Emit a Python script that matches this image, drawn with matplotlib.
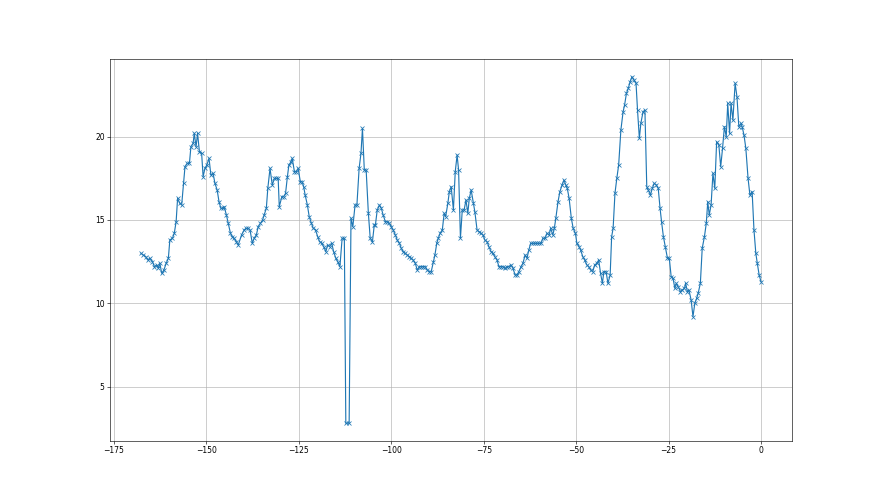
import numpy as np
from matplotlib import pyplot as plt

# hours before now
hours = [
    -167.7, -167.1, -166.4, -165.9, -165.3, -164.6, -164.1, -163.5, -163.0, -162.6,
    -162.1, -161.5, -160.9, -160.3, -159.9, -159.2, -158.7, -158.2, -157.8, -157.2,
    -156.7, -156.2, -155.8, -155.2, -154.6, -154.2, -153.6, -153.3, -152.8, -152.4,
    -151.9, -151.3, -150.9, -150.4, -149.9, -149.3, -148.8, -148.2, -147.7, -147.1,
    -146.6, -146.1, -145.5, -145.2, -144.6, -144.1, -143.5, -143.0, -142.5, -141.9,
    -141.4,
    -140.5, -139.8, -139.3, -138.7, -138.2, -137.6, -137.1, -136.5, -136.0, -135.4,
    -134.8, -134.4, -133.8, -133.4, -132.8, -132.2, -131.6, -131.1, -130.6, -130.3,
    -129.6, -129.1, -128.6, -128.1, -127.7, -127.1, -126.8, -126.2, -125.7, -125.2,
    -124.6, -124.1, -123.7, -123.3, -122.7, -122.2, -121.6, -121.1, -120.5, -119.9,
    -119.4, -118.8, -118.3, -117.7, -117.2, -116.7, -116.1, -115.6, -115.0, -114.5,
    -113.9, -113.3, -112.7, -112.3, -111.4, -110.9, -110.4, -109.8, -109.3, -108.7,
    -108.2, -107.8, -107.3, -106.8, -106.2, -105.7, -105.1, -104.6, -104.3, -103.8,
    -103.2, -102.7, -102.2, -101.6, -101.1, -100.5, -100.0, -99.5, -98.9, -98.4,
    -97.8, -97.3, -96.8, -96.2, -95.7, -95.1, -94.6, -94.1, -93.5, -93.0,
    -92.4, -91.9, -91.3, -90.8, -90.3, -89.7, -89.2, -88.6,
    -88.2, -87.7, -87.3, -86.8, -86.2, -85.7, -85.3, -84.7, -84.3, -83.8,
    -83.2, -82.7, -82.2, -81.8, -81.3, -80.8, -80.3, -79.8, -79.3, -78.9,
    -78.4, -77.8, -77.4, -76.8, -76.3, -75.7, -75.2, -74.7, -74.1, -73.6,
    -73.0, -72.5, -72.0, -71.4, -70.9, -70.3, -69.8, -69.2, -68.7, -68.2,
    -67.6, -67.1, -66.5, -66.0, -65.5, -64.9, -64.4, -63.8, -63.3, -62.8,
    -62.3, -61.8, -61.2, -60.7, -60.1,
    -59.5, -59.0, -58.4, -57.9, -57.3, -56.9, -56.3, -55.9, -55.5, -54.9,
    -54.4, -53.8, -53.3, -52.8, -52.4, -51.9, -51.3, -50.8, -50.2, -49.8,
    -49.2, -48.8, -48.2, -47.7, -47.1, -46.6, -46.1, -45.5, -45.0, -44.4,
    -43.9, -43.4, -42.9, -42.5, -41.9, -41.4, -40.8, -40.4, -40.0, -39.5,
    -39.0, -38.5, -37.9, -37.3, -36.9, -36.4, -35.9, -35.4, -34.9, -34.4,
    -33.8, -33.4, -32.9, -32.5, -31.9, -31.4,
    -30.9, -30.5, -29.9, -29.4, -28.9, -28.3, -27.8, -27.3, -26.9, -26.4,
    -25.9, -25.3, -24.8, -24.3, -23.8, -23.3, -22.9, -22.4, -21.8, -21.3,
    -20.7, -20.4, -19.9, -19.5, -18.9, -18.4, -17.9, -17.4, -17.0, -16.4,
    -15.9, -15.3, -14.8, -14.4, -14.0, -13.5, -13.0, -12.5, -12.0, -11.4,
    -10.9, -10.4, -9.9, -9.4, -9.0, -8.5, -8.1, -7.6, -7.0, -6.5,
    -6.0, -5.4, -5.1, -4.6, -4.1, -3.5, -3.0, -2.4, -1.9, -1.4,
    -1.0, -0.5, 0.0,
]

values = [
    13.0, 12.9, 12.8, 12.6, 12.7, 12.5, 12.2, 12.3, 12.1, 12.4,
    11.8, 12.0, 12.4, 12.7, 13.8, 13.9, 14.2, 14.9, 16.3, 16.0,
    15.9, 17.2, 18.2, 18.4, 18.4, 19.4, 19.6, 20.2, 19.4, 20.2,
    19.1, 19.0, 17.6, 18.1, 18.3, 18.7, 17.7, 17.8, 17.2, 16.8,
    16.1, 15.7, 15.7, 15.8, 15.3, 14.8, 14.2, 14.0, 13.9, 13.7,
    13.5,
    14.1, 14.4, 14.5, 14.5, 14.4, 13.6, 13.9, 14.1, 14.6, 14.8,
    15.0, 15.3, 15.7, 16.9, 18.1, 17.1, 17.5, 17.5, 17.5, 15.8,
    16.4, 16.4, 16.6, 17.6, 18.3, 18.5, 18.7, 17.9, 17.9, 18.1,
    17.3, 17.3, 17.0, 16.5, 15.9, 15.2, 14.8, 14.5, 14.4, 14.0,
    13.7, 13.6, 13.4, 13.1, 13.5, 13.4, 13.6, 13.1, 12.7, 12.5,
    12.2, 13.9, 13.9, 2.8, 2.8, 15.1, 14.6, 15.9, 15.9, 18.1,
    19.0, 20.5, 18.0, 18.0, 15.4, 13.9, 13.7, 14.7, 14.7, 15.6,
    15.9, 15.7, 15.3, 14.9, 14.9, 14.8, 14.6, 14.4, 14.1, 13.8,
    13.6, 13.3, 13.1, 13.0, 12.9, 12.8, 12.7, 12.6, 12.4, 12.0,
    12.2, 12.2, 12.2, 12.2, 12.0, 11.9, 11.9, 12.5,
    12.9, 13.6, 13.9, 14.2, 14.4, 15.4, 15.2, 16.0, 16.7, 17.0,
    15.6, 17.9, 18.9, 18.0, 13.9, 15.6, 15.6, 16.2, 15.4, 16.3,
    16.8, 16.0, 15.5, 14.4, 14.3, 14.2, 14.1, 13.8, 13.7, 13.4,
    13.1, 13.0, 12.8, 12.6, 12.2, 12.2, 12.2, 12.1, 12.2, 12.2,
    12.3, 12.1, 11.7, 11.7, 11.9, 12.2, 12.4, 12.9, 12.7, 13.2,
    13.6, 13.6, 13.6, 13.6, 13.6,
    13.6, 13.9, 13.9, 14.2, 14.1, 14.5, 14.1, 14.5, 15.1, 16.1,
    16.7, 17.1, 17.4, 17.1, 16.9, 16.3, 15.1, 14.5, 14.2, 13.6,
    13.4, 13.2, 12.8, 12.6, 12.3, 12.2, 12.0, 11.9, 12.3, 12.4,
    12.6, 11.8, 11.2, 11.9, 11.9, 11.2, 11.7, 14.0, 14.5, 16.6,
    17.5, 18.3, 20.4, 21.5, 21.9, 22.6, 22.9, 23.3, 23.6, 23.4,
    23.2, 21.6, 19.9, 20.8, 21.5, 21.6,
    17.0, 16.8, 16.5, 16.9, 17.2, 17.1, 16.9, 15.7, 14.9, 14.0,
    13.4, 12.7, 12.7, 11.6, 11.5, 10.9, 11.2, 11.0, 10.7, 10.8,
    10.9, 11.2, 10.7, 10.8, 10.2, 9.2, 10.0, 10.3, 10.6, 11.2,
    13.3, 14.0, 14.8, 16.1, 15.3, 15.9, 17.8, 16.9, 19.7, 19.5,
    18.2, 19.3, 20.6, 20.0, 22.0, 20.2, 22.0, 21.0, 23.2, 22.4,
    20.6, 20.8, 20.6, 20.1, 19.3, 17.5, 16.5, 16.7, 14.4, 13.0,
    12.4, 11.7, 11.3,
]

fig, ax = plt.subplots(figsize=(16, 9), dpi=55)
ax.plot(np.array(hours), np.array(values), marker='x')
ax.grid(True)
fig.savefig('out.png', dpi=55)
